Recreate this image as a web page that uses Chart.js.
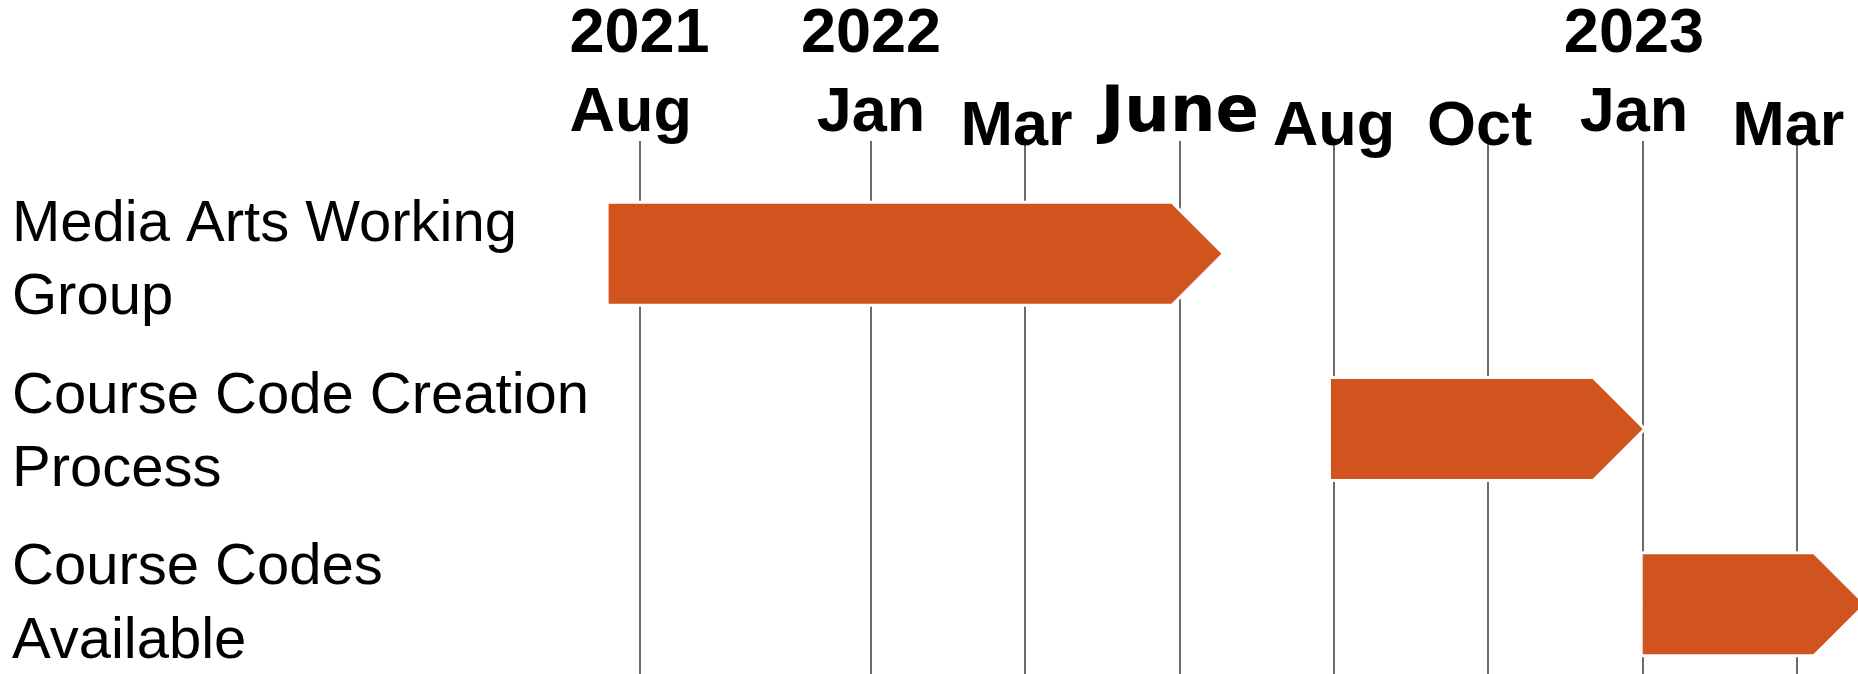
<!DOCTYPE html>
<html><head><meta charset="utf-8">
<script src="https://cdn.jsdelivr.net/npm/chart.js@4.4.0/dist/chart.umd.min.js"></script>
<style>html,body{margin:0;padding:0;background:#fff;overflow:hidden}#wrap{width:1858px;height:674px;position:relative}</style>
</head><body><div id="wrap"><canvas id="c"></canvas></div>
<script>
// ---- data ----
const categories = [["Media Arts Working", "Group"], ["Course Code Creation", "Process"], ["Course Codes", "Available"]];
// timeline positions (one unit = one grid step of the original slide)
const monthTickPos = [-1.5, 0, 1, 2, 3, 4, 5, 6];
const monthTickLabels = ["Aug ", "Jan", "Mar ", "June", "Aug", "Oct ", "Jan ", "Mar "];
const yearTickPos = [-1.5, 0, 5];
const yearTickLabels = ["2021", "2022", "2023 "];
const taskStart = [-1.7, 2.98, 5.0];
const taskEnd = [2.27, 5.0, 6.43];

// ---- styles ----
const ORANGE = '#D1541F';
const GRID = '#6b6b6b';
const Y_MIN = -0.523, Y_MAX = 2.398;       // bar rows
const YL_MIN = -0.5786, YL_MAX = 2.4016;   // row labels (slightly different spacing in the slide)
const X_MIN = -1.7236, X_MAX = 6.395;

function tickIndex(ctx) {
  return ctx && ctx.tick ? monthTickPos.indexOf(ctx.tick.value) : -1;
}
function monthFont(ctx) {
  const i = tickIndex(ctx);
  const v = i >= 0 ? monthTickPos[i] : null;
  const lab = i >= 0 ? monthTickLabels[i] : "";
  if (lab === "June") return { family: "'DejaVu Sans'", size: 64, weight: 'bold', lineHeight: '77.4px' };
  if (v !== null && yearTickPos.includes(v))
    return { family: "'Liberation Sans', Arial, sans-serif", size: 63, weight: 'bold', lineHeight: '78.5px' };
  return { family: "'Liberation Sans', Arial, sans-serif", size: 63, weight: 'bold', lineHeight: '50.6px' };
}

const arrowPlugin = {
  id: 'arrows',
  afterDatasetsDraw(chart) {
    const ctx = chart.ctx;
    chart.getDatasetMeta(0).data.forEach(el => {
      const { x, y, base, height } = el.getProps(['x', 'y', 'base', 'height'], true);
      const h2 = height / 2;
      const left = Math.min(x, base), tip = Math.max(x, base);
      const neck = tip - h2;
      ctx.save();
      ctx.beginPath();
      ctx.moveTo(left, y - h2);
      ctx.lineTo(neck, y - h2);
      ctx.lineTo(tip, y);
      ctx.lineTo(neck, y + h2);
      ctx.lineTo(left, y + h2);
      ctx.closePath();
      ctx.lineJoin = 'miter';
      ctx.strokeStyle = '#ffffff';
      ctx.lineWidth = 6;
      ctx.stroke();
      ctx.fillStyle = ORANGE;
      ctx.fill();
      ctx.restore();
    });
  }
};

new Chart(document.getElementById('c'), {
  type: 'bar',
  data: {
    datasets: [{
      data: categories.map((c, i) => ({ y: i, x: [taskStart[i], taskEnd[i]] })),
      backgroundColor: 'rgba(0,0,0,0)',
      borderWidth: 0,
      barThickness: 100,
      xAxisID: 'x',
      yAxisID: 'y'
    }]
  },
  options: {
    indexAxis: 'y',
    responsive: true,
    maintainAspectRatio: false,
    animation: false,
    layout: { padding: { left: 12, top: 0, right: 0, bottom: 0 } },
    plugins: { legend: { display: false }, tooltip: { enabled: false } },
    scales: {
      x: {
        type: 'linear', position: 'top', min: X_MIN, max: X_MAX, offset: false,
        afterBuildTicks: s => { s.ticks = monthTickPos.map(v => ({ value: v })); },
        afterFit: s => { s.height = 162; },
        ticks: {
          autoSkip: false, maxRotation: 0, minRotation: 0, padding: -11.7, color: '#000',
          callback: v => {
            const i = monthTickPos.indexOf(v);
            const yi = yearTickPos.indexOf(v);
            return yi >= 0 ? [yearTickLabels[yi], monthTickLabels[i]] : monthTickLabels[i];
          },
          font: monthFont
        },
        grid: { color: GRID, lineWidth: 2, drawTicks: true, tickLength: 21, offset: false },
        border: { display: false }
      },
      y: {
        type: 'linear', position: 'left', display: false, reverse: true,
        min: Y_MIN, max: Y_MAX, offset: false,
        grid: { display: false, offset: false }
      },
      yLabels: {
        type: 'linear', position: 'left', reverse: true, min: YL_MIN, max: YL_MAX, offset: false,
        afterBuildTicks: s => {
          s.ticks = [{ value: YL_MIN }].concat(categories.map((c, i) => ({ value: i })), [{ value: YL_MAX }]);
        },
        afterFit: s => { s.width = 593; },
        ticks: {
          autoSkip: false, crossAlign: 'far', padding: 0, color: '#000',
          callback: v => (Number.isInteger(v) && categories[v]) ? categories[v] : [],
          font: { family: "'Liberation Sans', Arial, sans-serif", size: 58, lineHeight: 1.26 }
        },
        grid: { display: false, offset: false },
        border: { display: false }
      }
    }
  },
  plugins: [arrowPlugin]
});
</script>
</body></html>
